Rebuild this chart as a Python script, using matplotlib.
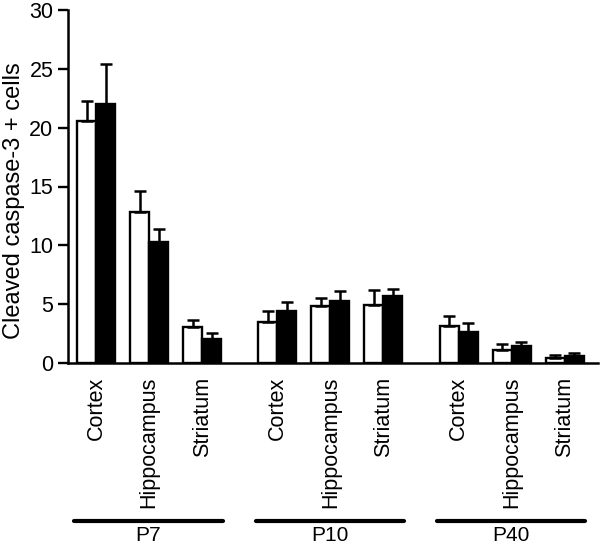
import matplotlib
matplotlib.use("Agg")
import matplotlib.pyplot as plt
import matplotlib.transforms as mtransforms
from matplotlib.lines import Line2D
import numpy as np

plt.rcParams['font.family'] = ['Liberation Sans', 'DejaVu Sans']

# data
regions = ["Cortex", "Hippocampus", "Striatum"]
ages = ["P7", "P10", "P40"]
white_vals = [20.6, 12.87, 3.04, 3.52, 4.82, 4.90, 3.18, 1.14, 0.46]
white_err = [1.65, 1.73, 0.62, 0.94, 0.74, 1.28, 0.82, 0.48, 0.25]
black_vals = [22.0, 10.26, 2.02, 4.42, 5.27, 5.67, 2.64, 1.45, 0.57]
black_err = [3.40, 1.11, 0.56, 0.74, 0.88, 0.60, 0.76, 0.34, 0.28]

group_step = 3.42
width = 0.36
x = np.array([g * group_step + i for g in range(len(ages)) for i in range(len(regions))])
labels = regions * len(ages)

fig = plt.figure(figsize=(6.0, 5.47), dpi=100)
ax = fig.add_axes([68 / 600, 1 - 363 / 547, 530 / 600, 353 / 547])

err_kw = dict(ecolor='black', elinewidth=1.8, capsize=4, capthick=1.8)
ax.bar(x - width / 2, white_vals, width, color='white', edgecolor='black', linewidth=1.7,
       yerr=[np.zeros(len(white_err)), white_err], error_kw=err_kw, zorder=2)
ax.bar(x + width / 2, black_vals, width, color='black', edgecolor='black', linewidth=1.7,
       yerr=[np.zeros(len(black_err)), black_err], error_kw=err_kw, zorder=2)

ax.set_xlim(-0.53, 9.47)
ax.set_ylim(0, 30)
ax.set_yticks([0, 5, 10, 15, 20, 25, 30])
ax.set_xticks(x)
ax.set_xticklabels(labels, rotation=90, va='top', ha='center')
ax.tick_params(axis='x', length=0, pad=10, labelsize=15.5)
ax.tick_params(axis='y', length=7, width=1.7, pad=3.5, labelsize=15.5, direction='out')

for side in ['top', 'right']:
    ax.spines[side].set_visible(False)
for side in ['left', 'bottom']:
    ax.spines[side].set_linewidth(1.8)

fig.text(14 / 600, 1 - 201 / 547, "Cleaved caspase-3 + cells", rotation=90,
         ha='center', va='center', fontsize=17)

# group underlines and labels
trans = mtransforms.blended_transform_factory(ax.transData, fig.transFigure)
line_y = 1 - 521 / 547
label_y = 1 - 541 / 547
for g, age in enumerate(ages):
    start = g * group_step - width - 0.05
    end = g * group_step + 2 + width + 0.03
    ax.add_line(Line2D([start, end], [line_y, line_y], transform=trans, color='black',
                       linewidth=3, solid_capstyle='round', clip_on=False))
    fig.text((start + end) / 2, label_y, age, transform=trans, ha='center', va='baseline',
             fontsize=15)

fig.savefig("out.png", dpi=100)
